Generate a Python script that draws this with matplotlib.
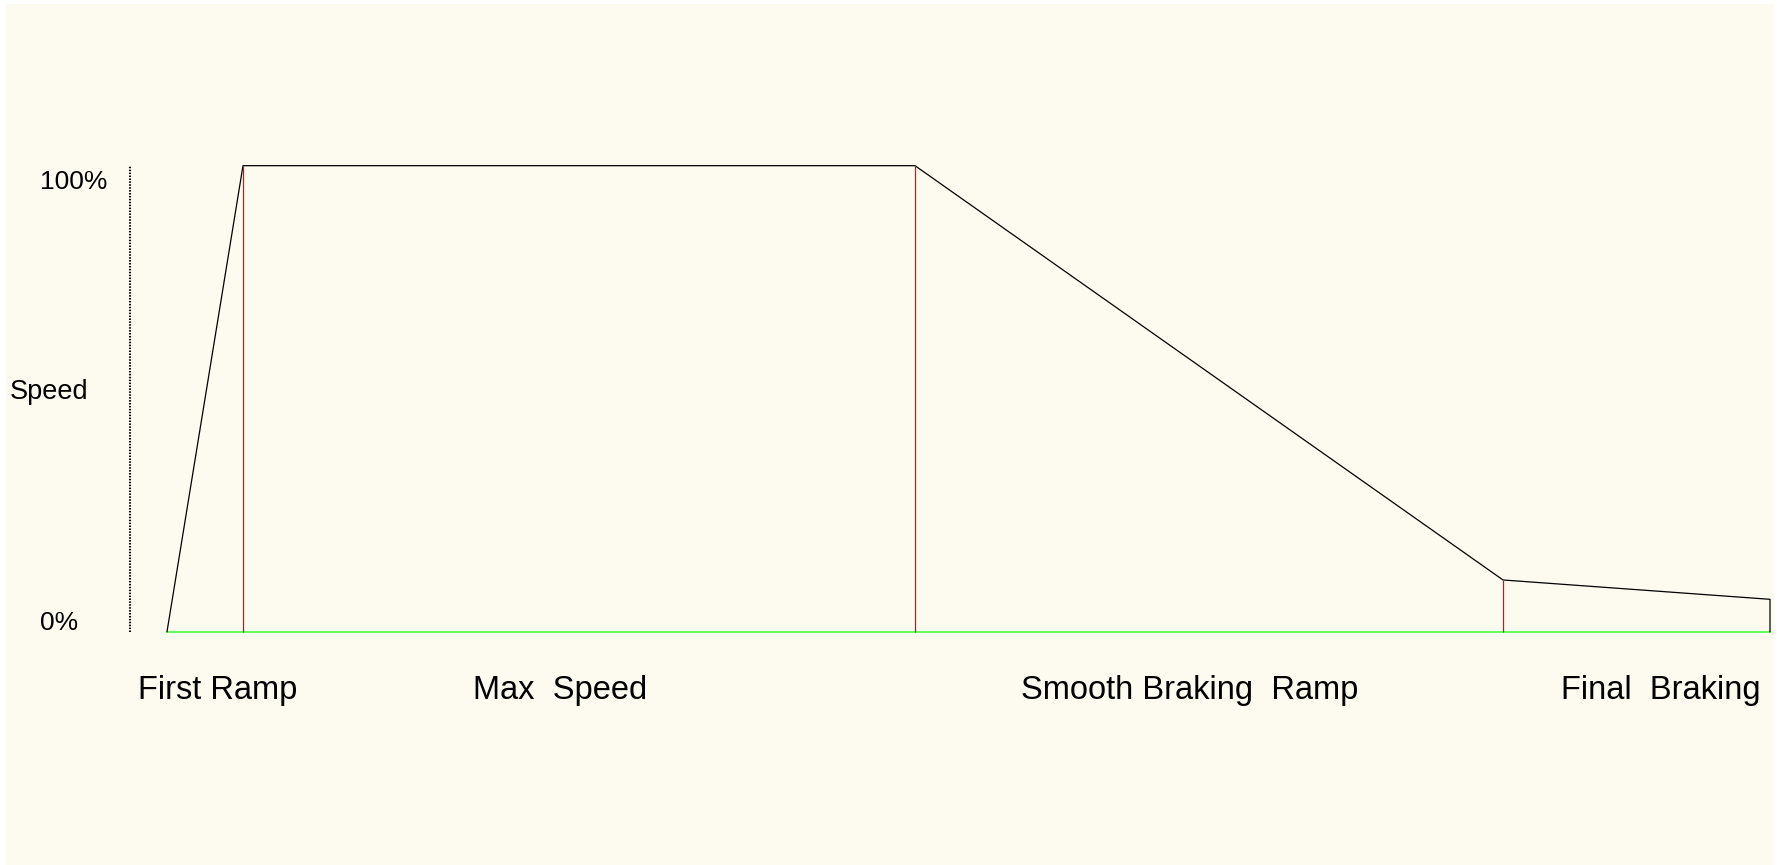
import matplotlib
matplotlib.use("Agg")
import matplotlib.pyplot as plt
from matplotlib.patches import Rectangle

plt.rcParams['font.family'] = ['Liberation Sans', 'DejaVu Sans']

# speed profile (time in arbitrary units, speed in %)
time = [0, 76, 748, 1336, 1603]
speed = [0, 100, 100, 11.1, 6.95]
# phase boundaries marked in red
marks_t = [76, 748, 1336]
marks_v = [100, 100, 11.1]
phase_names = ["First Ramp", "Max  Speed", "Smooth Braking  Ramp", "Final  Braking"]
phase_x = [51, 393, 1023, 1494]
tick_labels = ["0%", "100%"]
tick_vals = [0, 100]

fig = plt.figure(figsize=(17.87, 8.65), dpi=100, facecolor='white')
fig.patches.append(Rectangle((6/1787, 0), (1774-6)/1787, (865-4)/865,
                             transform=fig.transFigure, facecolor='#fdfbf0',
                             edgecolor='none', zorder=-10))
ax = fig.add_axes([0, 0, 1, 1])
ax.set_facecolor('none')
ax.axis('off')
ax.set_xlim(-167, 1620)
ax.set_ylim(-50.06, 135.55)

lw = 0.9
# baseline
ax.plot([time[0], time[-1]], [0, 0], color='#33ff33', lw=1.1, zorder=2)
# profile
ax.plot(time + [time[-1]], speed + [0], color='black', lw=lw, zorder=3)
# phase boundaries
ax.vlines(marks_t, 0, marks_v, color='red', lw=lw, zorder=3)

# dotted speed axis
ax.plot([-37, -37], [0, 100], color='black', lw=1.5, linestyle=(0, (0.7, 0.7)))
for v, lab in zip(tick_vals, tick_labels):
    ax.text(-127, v + (1.9 if v == 0 else -3.5), lab, fontsize=19,
            ha='left', va='center')
ax.text(-157, 51.4, "Speed", fontsize=19.5, ha='left', va='center')

for x, name in zip(phase_x, phase_names):
    ax.text(x, -12.7, name, fontsize=23.5, ha='center', va='center')

fig.savefig("out.png", dpi=100, facecolor=fig.get_facecolor())
